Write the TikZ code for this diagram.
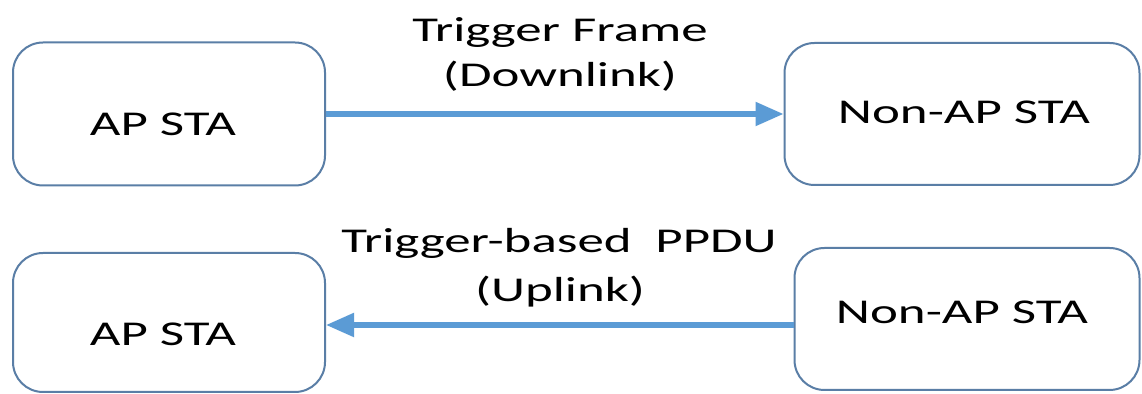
\documentclass[tikz,border=0pt]{standalone}
\usepackage{fontspec}
\setmainfont[FakeStretch=1.52]{Carlito}
\usetikzlibrary{arrows.meta}
\definecolor{boxline}{HTML}{5A7EA6}
\definecolor{linkblue}{HTML}{5B9BD5}
\tikzset{
  stabox/.style={draw=boxline, line width=1pt, rounded corners=15pt, fill=white,
    inner sep=0pt},
  statext/.style={font=\fontsize{17.4pt}{20pt}\selectfont, inner sep=0pt},
  linktext/.style={font=\fontsize{17.4pt}{20pt}\selectfont, inner sep=0pt, anchor=base},
  link/.style={draw=linkblue, line width=2.6pt,
    -{Triangle[length=14pt,width=11.5pt]}}
}
\begin{document}
\begin{tikzpicture}[x=0.5pt,y=-0.5pt]
  \useasboundingbox[fill=white] (0,0) rectangle (1142,394);

  % stations
  \node[stabox, minimum width=156pt, minimum height=71.5pt] (ap1) at (169,114) {};
  \node[stabox, minimum width=177.5pt, minimum height=71pt] (non1) at (962,114) {};
  \node[stabox, minimum width=156pt, minimum height=69.5pt] (ap2) at (169,322.5) {};
  \node[stabox, minimum width=172.5pt, minimum height=71pt] (non2) at (967,319) {};

  \node[statext] (ap1t) at (163,124) {AP STA};
  \node[statext] (non1t) at (964,112) {Non-AP STA};
  \node[statext] (ap2t) at (163,334) {AP STA};
  \node[statext] (non2t) at (962,312) {Non-AP STA};

  % downlink: trigger frame
  \draw[link] (ap1.east) -- (non1.west);
  \node[linktext] (dl1) at (560,42) {Trigger Frame};
  \node[linktext] (dl2) at (560,87) {(Downlink)};

  % uplink: trigger-based PPDU
  \coordinate (uplevel) at (0,325);
  \draw[link] (non2.west |- uplevel) -- (ap2.east |- uplevel);
  \node[linktext] (ul1) at (559,253) {Trigger-based\ \ PPDU};
  \node[linktext] (ul2) at (560,302) {(Uplink)};
\end{tikzpicture}
\end{document}
